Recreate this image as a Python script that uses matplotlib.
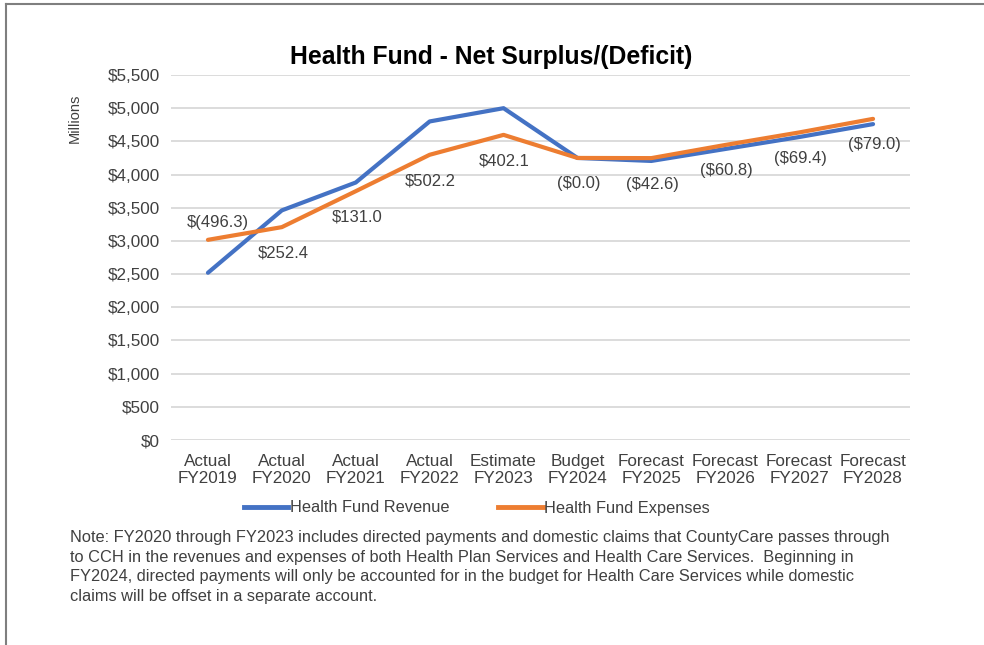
import numpy as np
import matplotlib.pyplot as plt
from matplotlib.lines import Line2D

plt.rcParams['font.family'] = ['Liberation Sans', 'DejaVu Sans']

categories = ["Actual\nFY2019", "Actual\nFY2020", "Actual\nFY2021", "Actual\nFY2022",
              "Estimate\nFY2023", "Budget\nFY2024", "Forecast\nFY2025", "Forecast\nFY2026",
              "Forecast\nFY2027", "Forecast\nFY2028"]
revenue = [2520, 3460, 3880, 4800, 5000, 4250, 4205, 4385, 4565, 4760]
expenses = [3016.3, 3207.6, 3749.0, 4297.8, 4597.9, 4250.0, 4247.6, 4445.8, 4634.4, 4839.0]
surplus_labels = ["$(496.3)", "$252.4", "$131.0", "$502.2", "$402.1",
                  "($0.0)", "($42.6)", "($60.8)", "($69.4)", "($79.0)"]
note = ("Note: FY2020 through FY2023 includes directed payments and domestic claims that CountyCare passes through\n"
        "to CCH in the revenues and expenses of both Health Plan Services and Health Care Services.  Beginning in\n"
        "FY2024, directed payments will only be accounted for in the budget for Health Care Services while domestic\n"
        "claims will be offset in a separate account.")

blue = "#4472C4"
orange = "#ED7D31"

fig = plt.figure(figsize=(9.84, 6.45), dpi=100)
ax = fig.add_axes([171 / 984, 1 - 440 / 645, (910 - 171) / 984, (440 - 75) / 645])

x = np.arange(len(categories))
ax.plot(x, revenue, color=blue, lw=3, solid_capstyle="round", zorder=3)
ax.plot(x, expenses, color=orange, lw=3, solid_capstyle="round", zorder=3)

# data labels: net surplus/(deficit), sitting below the expense line (first one above)
for i, lab in enumerate(surplus_labels):
    if i == 0:
        off = (10, 17)
    else:
        off = (1, -26)
    ax.annotate(lab, (x[i], expenses[i]), xytext=off, textcoords="offset pixels",
                ha="center", va="center", fontsize=12, color="#404040")

ax.set_xlim(-0.5, 9.5)
ax.set_ylim(0, 5500)
ax.set_yticks(np.arange(0, 5501, 500))
ax.set_yticklabels(["$0"] + ["${:,}".format(v) for v in range(500, 5501, 500)])
ax.set_xticks(x)
ax.set_xticklabels(categories)
ax.tick_params(axis="both", length=0, labelsize=12.3, labelcolor="#404040")
ax.tick_params(axis="y", pad=8)
ax.tick_params(axis="x", pad=10)
ax.grid(axis="y", color="#D9D9D9", lw=1.3)
ax.set_axisbelow(True)
for s in ax.spines.values():
    s.set_visible(False)

fig.text(75 / 984, 1 - 118 / 645, "Millions", rotation=90, ha="center", va="center",
         fontsize=10.5, color="#404040")
fig.text(491 / 984, 1 - 57 / 645, "Health Fund - Net Surplus/(Deficit)", ha="center",
         va="center", fontsize=17.8, fontweight="bold", color="black")

handles = [Line2D([], [], color=blue, lw=3.5), Line2D([], [], color=orange, lw=3.5)]
fig.legend(handles, ["Health Fund Revenue", "Health Fund Expenses"], loc="center",
           bbox_to_anchor=(477 / 984, 1 - 508 / 645), ncol=2, frameon=False,
           fontsize=11.8, handlelength=2.7, handletextpad=0.1, columnspacing=3.0,
           labelcolor="#404040")

fig.text(70 / 984, 1 - 530 / 645, note, ha="left", va="top", fontsize=11.8,
         color="#404040", linespacing=1.38)

# outer frame (top and left edges)
fig.add_artist(Line2D([6 / 984, 1], [1 - 4 / 645, 1 - 4 / 645], color="#7F7F7F", lw=1.5))
fig.add_artist(Line2D([6 / 984, 6 / 984], [1 - 4 / 645, 0], color="#7F7F7F", lw=1.5))

fig.savefig("out.png", dpi=100)
